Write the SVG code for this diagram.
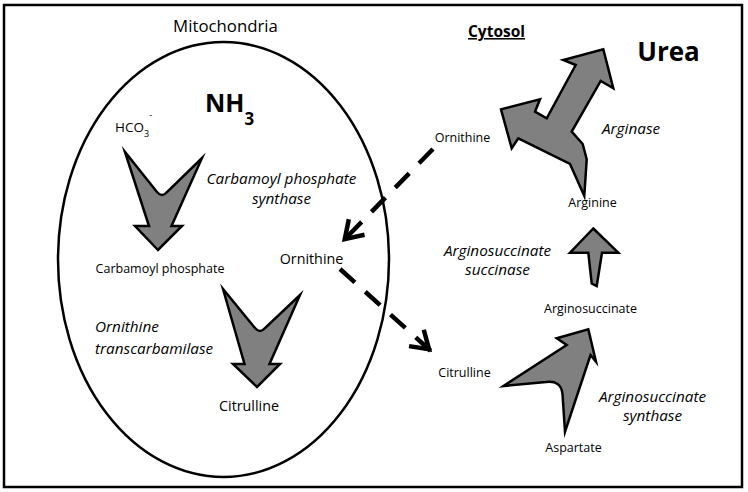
<svg xmlns="http://www.w3.org/2000/svg" width="748" height="492" viewBox="0 0 748 492">
<style>
text{font-family:"Open Sans","Liberation Sans",sans-serif;fill:#000}
.sm{font-size:12.5px}
.md{font-size:14.3px}
.it{font-size:15.3px;font-style:italic}
.bd{font-weight:bold}
.ga{fill:#808080;stroke:#000;stroke-width:2.5;stroke-linejoin:miter;stroke-miterlimit:10}
.dash{fill:none;stroke:#000;stroke-width:4.5;stroke-dasharray:20 14;marker-end:url(#vhead)}
</style>
<defs>
<marker id="vhead" markerUnits="userSpaceOnUse" markerWidth="40" markerHeight="40" refX="0" refY="0" orient="auto" overflow="visible">
<path d="M-21,-11 L-4,0 L-21,11" fill="none" stroke="#000" stroke-width="4.5" stroke-linejoin="miter"/>
</marker>
</defs>
<rect x="4" y="5" width="738" height="482" fill="#fff" stroke="#000" stroke-width="2.5"/>

<g id="mitochondria">
<ellipse cx="223.5" cy="259.5" rx="165.5" ry="217.5" fill="none" stroke="#000" stroke-width="2.5"/>
<text x="225.5" y="32" style="font-size:16.8px" text-anchor="middle">Mitochondria</text>
</g>

<g id="nh3"><text x="205" y="112" class="bd" style="font-size:25px">NH<tspan dy="13" style="font-size:17px">3</tspan></text></g>
<g id="hco3"><text x="115" y="132" style="font-size:13.5px">HCO<tspan dy="5" style="font-size:9px">3</tspan><tspan dy="-19" style="font-size:9px">-</tspan></text></g>

<g id="cps-arrow"><path class="ga" d="M125,152 L149,226 L135,226 L158,250 L182,226 L171.5,226 L202,158 L167,192 Q162,198 157,192 Z"/></g>
<g id="cps-label"><text class="it" text-anchor="middle"><tspan x="281.5" y="184">Carbamoyl phosphate</tspan><tspan x="281.5" y="204">synthase</tspan></text></g>
<g id="carbamoyl-phosphate"><text x="160" y="273" class="sm" text-anchor="middle">Carbamoyl phosphate</text></g>
<g id="ornithine-mito"><text x="311.5" y="264" class="md" text-anchor="middle">Ornithine</text></g>

<g id="otc-arrow"><path class="ga" d="M223,289 L244.5,364 L233,364 L257,387 L280,364 L269.5,364 L300,295 L265,328 Q260,334 255,328 Z"/></g>
<g id="otc-label"><text class="it"><tspan x="95" y="332">Ornithine</tspan><tspan x="95" y="354">transcarbamilase</tspan></text></g>
<g id="citrulline-mito"><text x="249" y="411" class="md" text-anchor="middle">Citrulline</text></g>

<g id="cytosol"><text x="496.5" y="37" class="bd" style="font-size:15.5px;text-decoration:underline" text-anchor="middle">Cytosol</text></g>
<g id="urea"><text x="668.5" y="61" class="bd" style="font-size:26px" text-anchor="middle">Urea</text></g>

<g id="ornithine-cyto"><text x="462.5" y="142" class="sm" text-anchor="middle">Ornithine</text></g>
<g id="arginase-arrow"><path class="ga" d="M603.3,49.3 L613.3,88.3 L600.7,81 L571.7,131.7 L582.7,144 L586.7,159.3 L584.3,196 L570,164 L518.3,138.3 L511.7,148.3 L501,109.3 L540,99.3 L535,111.7 L546.7,118.3 L575.7,65 L563.3,60 Z"/></g>
<g id="arginase-label"><text x="602" y="134" class="it">Arginase</text></g>
<g id="arginine"><text x="592.5" y="207" class="sm" text-anchor="middle">Arginine</text></g>

<g id="ass-arrow"><path class="ga" d="M593.3,228.5 L618.3,252.7 L602,252.7 L596.7,286 L591.7,283.5 L588.3,252.7 L570,252.7 Z"/></g>
<g id="asl-label"><text class="it" text-anchor="middle"><tspan x="497.5" y="256">Arginosuccinate</tspan><tspan x="497.5" y="275">succinase</tspan></text></g>
<g id="arginosuccinate"><text x="590.5" y="313" class="sm" text-anchor="middle">Arginosuccinate</text></g>

<g id="assyn-arrow"><path class="ga" d="M588.3,329.3 L596,361.7 L590.5,355 L565,431.7 L562.5,394 Q561,380 546,382 L503.5,386 L566.7,345 L556.7,338.3 Z"/></g>
<g id="assyn-label"><text class="it" text-anchor="middle"><tspan x="652.5" y="402">Arginosuccinate</tspan><tspan x="652.5" y="421">synthase</tspan></text></g>
<g id="citrulline-cyto"><text x="464.5" y="377" class="sm" text-anchor="middle">Citrulline</text></g>
<g id="aspartate"><text x="573.5" y="452" class="sm" text-anchor="middle">Aspartate</text></g>

<g id="connectors">
<path class="dash" d="M433,149 L342,242"/>
<path class="dash" d="M340,269 L432,352"/>
</g>
</svg>
